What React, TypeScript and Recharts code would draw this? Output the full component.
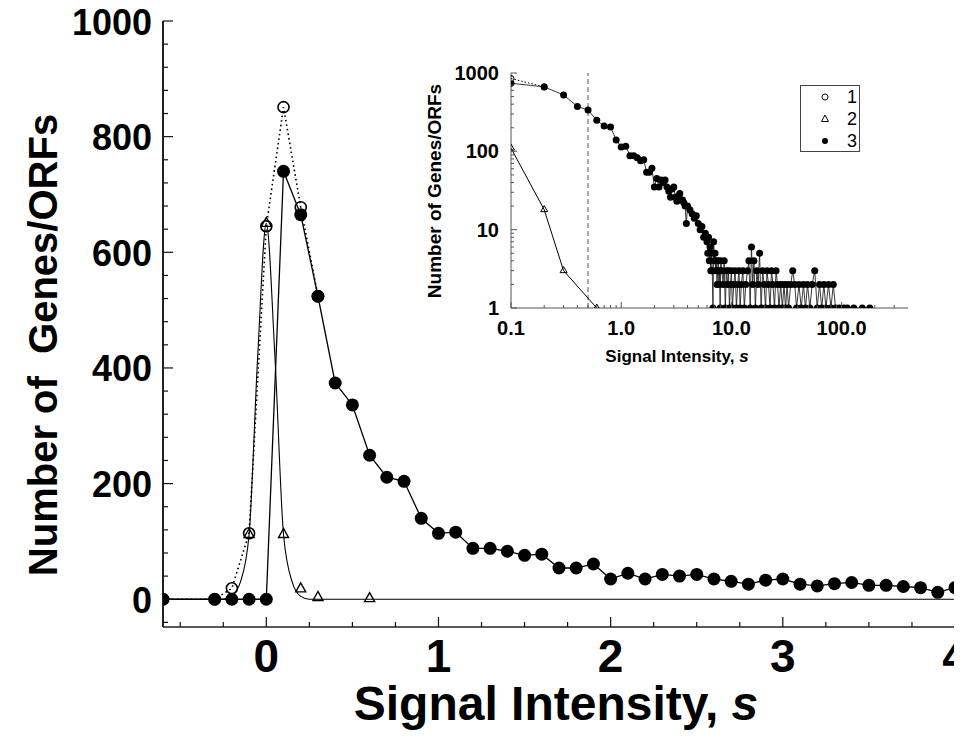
import React from 'react';
import { ComposedChart, Line, XAxis, YAxis, ReferenceLine, Legend } from 'recharts';

const FONT = "'Liberation Sans', Arial, Helvetica, sans-serif";

// ---------- main plot data ----------
// series 3 (filled circles)
const s3 = [-0.6, -0.3, -0.2, -0.1, 0, 0.1, 0.2, 0.3, 0.4, 0.5, 0.6, 0.7, 0.8, 0.9, 1.0,
  1.1, 1.2, 1.3, 1.4, 1.5, 1.6, 1.7, 1.8, 1.9, 2.0, 2.1, 2.2, 2.3, 2.4, 2.5, 2.6, 2.7, 2.8, 2.9, 3.0,
  3.1, 3.2, 3.3, 3.4, 3.5, 3.6, 3.7, 3.8, 3.9, 4.0];
const n3 = [0, 0, 0, 0, 0, 740, 665, 524, 374, 336, 249, 211, 204, 140, 114,
  116, 88, 88, 83, 76, 78, 54, 54, 61, 35, 45, 35, 43, 40, 43, 35, 31, 26, 33, 35,
  26, 23, 27, 29, 24, 24, 22, 20, 12, 20];
// series 1 (open circles, dotted)
const s1 = [-0.6, -0.3, -0.2, -0.1, 0, 0.1, 0.2, 0.3];
const n1 = [0, 0, 19, 114, 645, 851, 678, 524];
// series 2 (triangles)
const s2 = [-0.1, 0, 0.1, 0.2, 0.3, 0.6];
const n2 = [112, 650, 112, 18, 3, 1];
// fitted curve through series 2
const fitS = [-0.6, -0.25, -0.2, -0.15, -0.1, -0.05, 0, 0.05, 0.1, 0.15, 0.2, 0.25, 4];
const fitN = [0, 0, 6, 30, 112, 420, 650, 420, 112, 30, 5, 0, 0];

// ---------- inset tail (s > 4) ----------
const tailS = [4.2, 4.4, 4.6, 4.8, 5.0, 5.2, 5.4, 5.6, 5.8, 6.0, 6.1, 6.2, 6.3, 6.4, 6.5, 6.6, 6.7, 6.8, 6.9, 7.0,
  7.1, 7.2, 7.3, 7.4, 7.5, 7.6, 7.7, 7.8, 7.9, 8.0, 8.2, 8.4, 8.6, 8.8, 9.0, 9.2, 9.4, 9.6, 9.8, 10.0,
  10.2, 10.5, 10.8, 11.1, 11.4, 11.7, 12.0, 12.3, 12.7, 13.1, 13.5, 14.0, 14.4, 14.8, 15.2, 15.6, 16.0,
  16.5, 17.0, 17.5, 18.0, 18.6, 19.2, 19.8, 20.4, 21.0, 21.7, 22.4, 23.1, 23.8, 24.6, 25.4, 26.2, 27.0,
  28.0, 29.0, 30.0, 31.0, 32.0, 33.0, 34.5, 36.0, 37.5, 39.0, 41.0, 43.0, 45.0, 47.0, 49.0, 51.5, 54.0,
  57.0, 60.0, 63.0, 66.0, 69.0, 72.0, 76.0, 80.0, 84.0, 88.0, 95, 105, 113, 129, 154, 180];
const tailN = [18, 16, 14, 15, 12, 10, 11, 8, 9, 7, 5, 8, 4, 6, 3, 5, 3, 1, 7, 4,
  5, 3, 4, 2, 3, 4, 2, 3, 1, 4, 3, 2, 4, 1, 3, 2, 3, 1, 2, 3,
  1, 2, 3, 1, 2, 3, 1, 2, 3, 1, 2, 3, 4, 1, 6, 2, 4,
  1, 3, 2, 5, 1, 3, 2, 1, 3, 2, 1, 3, 2, 1, 3, 2, 1,
  2, 1, 2, 1, 2, 1, 2, 3, 2, 1, 2, 1, 2, 1, 2, 1, 2,
  3, 1, 2, 1, 2, 1, 2, 1, 2, 1, 1, 1, 1, 1, 1, 1];
const is1 = [0.1, 0.2];
const in1 = [851, 665];
const is2 = [0.1, 0.2, 0.3, 0.6];
const in2 = [110, 18, 3, 1];

// ---------- ticks ----------
const xTicksMain = [-0.5, -0.25, 0, 0.25, 0.5, 0.75, 1, 1.25, 1.5, 1.75, 2, 2.25, 2.5, 2.75, 3, 3.25, 3.5, 3.75, 4];
const xMajorMain = [0, 1, 2, 3, 4];
const yTicksMain = [-40, 0, 40, 80, 120, 160, 200, 240, 280, 320, 360, 400, 440, 480, 520, 560, 600,
  640, 680, 720, 760, 800, 840, 880, 920, 960, 1000];
const yMajorMain = [0, 200, 400, 600, 800, 1000];

const xTicksInset = [0.1, 0.2, 0.3, 0.4, 0.5, 0.6, 0.7, 0.8, 0.9, 1, 2, 3, 4, 5, 6, 7, 8, 9,
  10, 20, 30, 40, 50, 60, 70, 80, 90, 100, 200, 300];
const xMajorInset = [0.1, 1, 10, 100];
const xLabelsInset = ['0.1', '1.0', '10.0', '100.0'];
const yTicksInset = [1, 2, 3, 4, 5, 6, 7, 8, 9, 10, 20, 30, 40, 50, 60, 70, 80, 90,
  100, 200, 300, 400, 500, 600, 700, 800, 900, 1000];
const yMajorInset = [1, 10, 100, 1000];
const legendLabels = ['1', '2', '3'];

const zip = (xs: number[], ys: number[]) => xs.map((s, i) => ({ s, n: ys[i] }));

const main3 = zip(s3, n3);
const main1 = zip(s1, n1);
const main2 = zip(s2, n2);
const fit2 = zip(fitS, fitN);

const inset3 = [...zip(s3, n3).filter((d) => d.s > 0), ...zip(tailS, tailN)];
const inset1 = zip(is1, in1);
const inset2 = zip(is2, in2);

// ---------- markers ----------
const filledDot = (r: number) => (p: any) => {
  if (p.cx == null || p.cy == null) return <g key={p.index} />;
  return <circle key={p.index} cx={p.cx} cy={p.cy} r={r} fill="#000" stroke="none" />;
};
const openDot = (r: number, sw: number) => (p: any) => {
  if (p.cx == null || p.cy == null) return <g key={p.index} />;
  return <circle key={p.index} cx={p.cx} cy={p.cy} r={r} fill="none" stroke="#000" strokeWidth={sw} />;
};
const triDot = (w: number, h: number, sw: number) => (p: any) => {
  if (p.cx == null || p.cy == null) return <g key={p.index} />;
  const { cx, cy } = p;
  const pts = `${cx},${cy - (2 * h) / 3} ${cx - w / 2},${cy + h / 3} ${cx + w / 2},${cy + h / 3}`;
  return <polygon key={p.index} points={pts} fill="none" stroke="#000" strokeWidth={sw} />;
};

// ---------- tick renderers ----------
const MainLeftTick = (p: any) => {
  const v = p.payload.value;
  const major = yMajorMain.includes(v);
  return (
    <g>
      <line x1={p.x} x2={p.x + (major ? 10 : 5)} y1={p.y} y2={p.y} stroke="#111" strokeWidth={1.2} />
      {major && (
        <text x={p.x - 11} y={p.y + 13.5} textAnchor="end" fontFamily={FONT} fontWeight="bold" fontSize={36} fill="#000">
          {v}
        </text>
      )}
    </g>
  );
};
const MainRightTick = (p: any) => {
  const v = p.payload.value;
  const major = yMajorMain.includes(v);
  return <line x1={p.x} x2={p.x - (major ? 10 : 5)} y1={p.y} y2={p.y} stroke="#111" strokeWidth={1.2} />;
};
const MainBottomTick = (p: any) => {
  const v = p.payload.value;
  const major = xMajorMain.includes(v);
  return (
    <g>
      <line x1={p.x} x2={p.x} y1={p.y} y2={p.y - (major ? 10 : 5)} stroke="#111" strokeWidth={1.2} />
      {major && (
        <text x={p.x} y={p.y + 45} textAnchor="middle" fontFamily={FONT} fontWeight="bold" fontSize={46} fill="#000">
          {v}
        </text>
      )}
    </g>
  );
};
const MainTopTick = (p: any) => {
  const v = p.payload.value;
  const major = xMajorMain.includes(v);
  return <line x1={p.x} x2={p.x} y1={p.y} y2={p.y + (major ? 10 : 5)} stroke="#111" strokeWidth={1.2} />;
};

const InsetLeftTick = (p: any) => {
  const v = p.payload.value;
  const major = yMajorInset.includes(v);
  return (
    <g>
      <line x1={p.x} x2={p.x + (major ? 6 : 3)} y1={p.y} y2={p.y} stroke="#555" strokeWidth={1} />
      {major && (
        <text x={p.x - 12} y={p.y + 7} textAnchor="end" fontFamily={FONT} fontWeight="bold" fontSize={20} fill="#000">
          {v}
        </text>
      )}
    </g>
  );
};
const InsetRightTick = (p: any) => {
  const v = p.payload.value;
  const major = yMajorInset.includes(v);
  return <line x1={p.x} x2={p.x - (major ? 6 : 3)} y1={p.y} y2={p.y} stroke="#555" strokeWidth={1} />;
};
const InsetBottomTick = (p: any) => {
  const v = p.payload.value;
  const idx = xMajorInset.indexOf(v);
  const major = idx >= 0;
  return (
    <g>
      <line x1={p.x} x2={p.x} y1={p.y} y2={p.y - (major ? 6 : 3)} stroke="#555" strokeWidth={1} />
      {major && (
        <text x={p.x} y={p.y + 27} textAnchor="middle" fontFamily={FONT} fontWeight="bold" fontSize={20} fill="#000">
          {xLabelsInset[idx]}
        </text>
      )}
    </g>
  );
};
const InsetTopTick = (p: any) => {
  const v = p.payload.value;
  const major = xMajorInset.includes(v);
  return <line x1={p.x} x2={p.x} y1={p.y} y2={p.y + (major ? 6 : 3)} stroke="#555" strokeWidth={1} />;
};

const InsetLegend = () => (
  <div style={{ width: 60, height: 67, border: '1px solid #444', background: '#fff', boxSizing: 'border-box' }}>
    <svg width={58} height={65} style={{ display: 'block' }}>
      {legendLabels.map((lab, i) => {
        const cy = 11 + i * 22;
        const cx = 24;
        return (
          <g key={lab}>
            {i === 0 && <circle cx={cx} cy={cy} r={3} fill="none" stroke="#000" strokeWidth={1} />}
            {i === 1 && (
              <polygon points={`${cx},${cy - 4} ${cx - 3.5},${cy + 2.5} ${cx + 3.5},${cy + 2.5}`} fill="none" stroke="#000" strokeWidth={1} />
            )}
            {i === 2 && <circle cx={cx} cy={cy} r={3} fill="#000" />}
            <text x={51} y={cy + 6} textAnchor="middle" fontFamily={FONT} fontSize={18} fill="#000">
              {lab}
            </text>
          </g>
        );
      })}
    </svg>
  </div>
);

export default function App() {
  return (
    <div style={{ position: 'relative', width: 954, height: 730, background: '#fff' }}>
      <ComposedChart width={954} height={730} margin={{ top: 13, right: 7, left: 0, bottom: 0 }}>
        <XAxis
          xAxisId={0}
          dataKey="s"
          type="number"
          domain={[-0.6, 4]}
          allowDataOverflow
          ticks={xTicksMain}
          interval={0}
          height={111}
          tickSize={0}
          tickMargin={0}
          tickLine={false}
          axisLine={{ stroke: '#222', strokeWidth: 1.6 }}
          tick={(p: any) => <MainBottomTick {...p} />}
          label={{
            content: () => (
              <text x={548} y={712} textAnchor="middle" fontFamily={FONT} fontWeight="bold" fontSize={48} fill="#000">
                Signal Intensity, <tspan fontStyle="italic">s</tspan>
              </text>
            ),
          }}
        />
        <XAxis
          xAxisId="top"
          orientation="top"
          dataKey="s"
          type="number"
          domain={[-0.6, 4]}
          allowDataOverflow
          ticks={xTicksMain}
          interval={0}
          height={0}
          tickSize={0}
          tickMargin={0}
          tickLine={false}
          axisLine={{ stroke: '#222', strokeWidth: 1.4 }}
          tick={(p: any) => <MainTopTick {...p} />}
        />
        <YAxis
          yAxisId={0}
          type="number"
          domain={[-48, 1000]}
          allowDataOverflow
          ticks={yTicksMain}
          interval={0}
          width={155}
          tickSize={0}
          tickMargin={0}
          tickLine={false}
          axisLine={{ stroke: '#222', strokeWidth: 2 }}
          tick={(p: any) => <MainLeftTick {...p} />}
          label={{
            content: () => (
              <text
                x={49}
                y={337}
                transform="rotate(-90 49 337)"
                textAnchor="middle"
                fontFamily={FONT}
                fontWeight="bold"
                fontSize={40}
                fill="#000"
                style={{ whiteSpace: 'pre' }}
              >
                {'Number of  Genes/ORFs'}
              </text>
            ),
          }}
        />
        <YAxis
          yAxisId="right"
          orientation="right"
          type="number"
          domain={[-48, 1000]}
          allowDataOverflow
          ticks={yTicksMain}
          interval={0}
          width={0}
          tickSize={0}
          tickMargin={0}
          tickLine={false}
          axisLine={{ stroke: '#222', strokeWidth: 1.4 }}
          tick={(p: any) => <MainRightTick {...p} />}
        />
        <Line data={fit2} dataKey="n" type="monotone" stroke="#000" strokeWidth={1.1} dot={false} isAnimationActive={false} />
        <Line
          data={main1}
          dataKey="n"
          type="linear"
          stroke="#000"
          strokeWidth={1.6}
          strokeDasharray="1.6 3"
          dot={openDot(5.5, 1.6)}
          isAnimationActive={false}
        />
        <Line data={main3} dataKey="n" type="linear" stroke="#000" strokeWidth={1.3} dot={filledDot(6.5)} isAnimationActive={false} />
        <Line data={main2} dataKey="n" type="linear" stroke="none" dot={triDot(10, 9, 1.4)} isAnimationActive={false} />
      </ComposedChart>

      <div style={{ position: 'absolute', left: 392, top: 50 }}>
        <ComposedChart width={520} height={320} margin={{ top: 15, right: 12, left: 0, bottom: 0 }}>
          <XAxis
            xAxisId={0}
            dataKey="s"
            type="number"
            scale="log"
            domain={[0.1, 400]}
            allowDataOverflow
            ticks={xTicksInset}
            interval={0}
            height={70}
            tickSize={0}
            tickMargin={0}
            tickLine={false}
            axisLine={{ stroke: '#555', strokeWidth: 1 }}
            tick={(p: any) => <InsetBottomTick {...p} />}
            label={{
              content: () => (
                <text x={277} y={304} textAnchor="middle" fontFamily={FONT} fontWeight="bold" fontSize={17} fill="#000">
                  Signal Intensity, <tspan fontStyle="italic">s</tspan>
                </text>
              ),
            }}
          />
          <XAxis
            xAxisId="top"
            orientation="top"
            dataKey="s"
            type="number"
            scale="log"
            domain={[0.1, 400]}
            allowDataOverflow
            ticks={xTicksInset}
            interval={0}
            height={0}
            tickSize={0}
            tickMargin={0}
            tickLine={false}
            axisLine={{ stroke: '#555', strokeWidth: 1 }}
            tick={(p: any) => <InsetTopTick {...p} />}
          />
          <YAxis
            yAxisId={0}
            type="number"
            scale="log"
            domain={[1, 1000]}
            allowDataOverflow
            ticks={yTicksInset}
            interval={0}
            width={111}
            tickSize={0}
            tickMargin={0}
            tickLine={false}
            axisLine={{ stroke: '#555', strokeWidth: 1 }}
            tick={(p: any) => <InsetLeftTick {...p} />}
            label={{
              content: () => (
                <text
                  x={41}
                  y={133}
                  transform="rotate(-90 41 133)"
                  textAnchor="middle"
                  fontFamily={FONT}
                  fontWeight="bold"
                  fontSize={19}
                  fill="#000"
                >
                  Number of Genes/ORFs
                </text>
              ),
            }}
          />
          <YAxis
            yAxisId="right"
            orientation="right"
            type="number"
            scale="log"
            domain={[1, 1000]}
            allowDataOverflow
            ticks={yTicksInset}
            interval={0}
            width={0}
            tickSize={0}
            tickMargin={0}
            tickLine={false}
            axisLine={{ stroke: '#555', strokeWidth: 1 }}
            tick={(p: any) => <InsetRightTick {...p} />}
          />
          <ReferenceLine x={0.5} stroke="#555" strokeWidth={1} strokeDasharray="5 3" />
          <Line
            data={inset1}
            dataKey="n"
            type="linear"
            stroke="#000"
            strokeWidth={1}
            strokeDasharray="1.5 2"
            dot={openDot(3, 1)}
            isAnimationActive={false}
          />
          <Line data={inset2} dataKey="n" type="linear" stroke="#000" strokeWidth={1} dot={triDot(7, 6, 1)} isAnimationActive={false} />
          <Line data={inset3} dataKey="n" type="linear" stroke="#222" strokeWidth={0.9} dot={filledDot(3.5)} isAnimationActive={false} />
          <Legend
            layout="vertical"
            verticalAlign="middle"
            align="center"
            content={() => <InsetLegend />}
            wrapperStyle={{ position: 'absolute', left: 400, top: 27, width: 60, height: 67, bottom: 'auto', right: 'auto' }}
          />
        </ComposedChart>
      </div>
    </div>
  );
}
